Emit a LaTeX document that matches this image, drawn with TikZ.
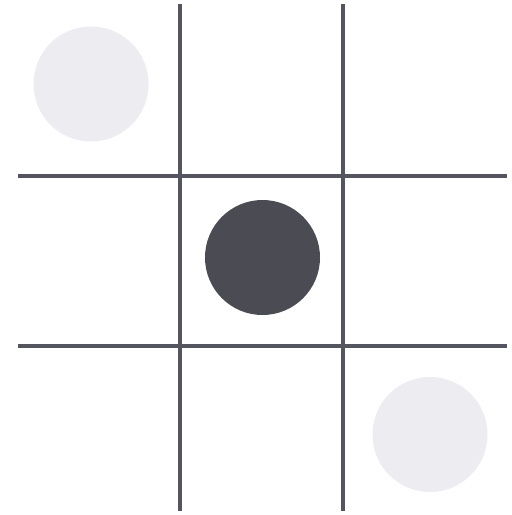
\documentclass[tikz,border=0pt]{standalone}
\definecolor{gridgray}{HTML}{55555F}
\definecolor{darkdisc}{HTML}{4B4B53}
\definecolor{lightdisc}{HTML}{ECECF1}
\tikzset{
  gridline/.style={draw=gridgray, line width=4pt},
  disc/.style={circle, minimum size=115pt, inner sep=0pt, draw=none},
}
\begin{document}
\begin{tikzpicture}[x=1pt,y=-1pt]
\useasboundingbox (0,0) rectangle (512,515);
\fill[white] (0,0) rectangle (512,515);
% discs
\node[disc, fill=lightdisc] (tl) at (91,84) {};
\node[disc, fill=darkdisc] (mid) at (262.5,257.5) {};
\node[disc, fill=lightdisc] (br) at (430,434.5) {};
% grid
\draw[gridline] (180,4) -- (180,511);
\draw[gridline] (343,4) -- (343,511);
\draw[gridline] (18,176) -- (507,176);
\draw[gridline] (18,346) -- (507,346);
\end{tikzpicture}
\end{document}
